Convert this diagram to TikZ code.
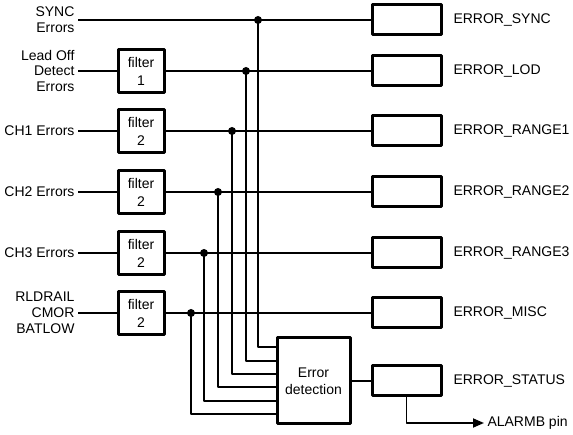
\documentclass[tikz,border=0pt]{standalone}
\usepackage{fontspec}
\setmainfont{Liberation Sans}
\usetikzlibrary{positioning,arrows.meta}
\begin{document}
\begin{tikzpicture}[x=1pt,y=-1pt,font=\fontsize{14}{16}\selectfont,line join=round,
  wire/.style={line width=1.8pt},
  blk/.style={draw,line width=3pt,inner sep=0pt},
  fltbox/.style={blk,minimum width=46pt,minimum height=43pt,align=center,font=\fontsize{14}{18}\selectfont},
  outbox/.style={blk,minimum width=69pt,minimum height=30pt},
  tapdot/.style={circle,fill,inner sep=0pt,minimum size=8pt}]
\useasboundingbox (0,0) rectangle (573,435);
\node[blk,minimum width=73pt,minimum height=86pt,align=center,font=\fontsize{14}{17}\selectfont] (det) at (313.5,381) {Error\\detection};
% SYNC row, no filter
\node[anchor=east,align=right] (insync) at (78,20) {SYNC\\Errors};
\node[outbox] (boxsync) at (406.5,20) {};
\node[anchor=west] (txtsync) at (450,20) {ERROR\_SYNC};
\coordinate (tapsync) at (258,20);
\coordinate (entsync) at (258,347);
\draw[wire] (insync) -- (boxsync);
\draw[wire] (tapsync) -- (entsync) -- (det.west |- entsync);
\node[tapdot] at (tapsync) {};
% filtered rows
\foreach \n/\y/\tx/\ey/\f/\lbl/\out in {
  lod/71/246/361/1/{Lead Off\\Detect\\Errors}/ERROR\_LOD,
  chone/131/232/374/2/{CH1 Errors}/ERROR\_RANGE1,
  chtwo/192/218/387/2/{CH2 Errors}/ERROR\_RANGE2,
  chthree/253/204/401/2/{CH3 Errors}/ERROR\_RANGE3,
  misc/313/191/414/2/{RLDRAIL\\CMOR\\BATLOW}/ERROR\_MISC}{
  \node[anchor=east,align=right] (in\n) at (78,\y) {\lbl};
  \node[fltbox] (flt\n) at (141,\y) {filter\\\f};
  \node[outbox] (box\n) at (406.5,\y) {};
  \node[anchor=west] (txt\n) at (450,\y) {\out};
  \coordinate (tap\n) at (\tx,\y);
  \coordinate (ent\n) at (\tx,\ey);
  \draw[wire] (in\n) -- (flt\n) (flt\n) -- (box\n);
  \draw[wire] (tap\n) -- (ent\n) -- (det.west |- ent\n);
  \node[tapdot] at (tap\n) {};
}
% status row
\node[outbox] (boxstatus) at (406.5,381) {};
\node[anchor=west] (txtstatus) at (450,381) {ERROR\_STATUS};
\draw[wire] (det) -- (boxstatus);
\coordinate (pin) at (484,423);
\node[right=0pt of pin] (alarm) {ALARMB pin};
\draw[wire,-{Triangle[length=11pt,width=9pt]}] (boxstatus.south) |- (pin);
\end{tikzpicture}
\end{document}
